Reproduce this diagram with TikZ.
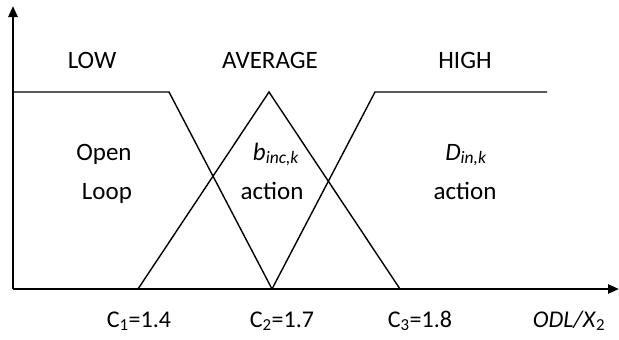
\documentclass[tikz,border=0pt]{standalone}
\usepackage{fontspec}
\setmainfont{Carlito}
\usetikzlibrary{arrows.meta}
\begin{document}
\begin{tikzpicture}[x=1pt,y=-1pt,
  axis/.style={line width=2.6pt,-{Triangle[length=11pt,width=9pt]}},
  mf/.style={line width=1.4pt,line join=miter},
  lbl/.style={font=\fontsize{25}{27}\selectfont,inner sep=0pt,text height=1.3ex,text depth=0pt},
  tick/.style={font=\fontsize{24}{26}\selectfont,inner sep=0pt}]
\useasboundingbox (0,0) rectangle (619,340);
% axes
\coordinate (O) at (13,289);
\coordinate (Ytop) at (13,6);
\coordinate (Xend) at (619,289);
\draw[axis] (O) -- (Ytop);
\draw[axis] (O) -- (Xend);
% membership functions
\coordinate (L0) at (13,92);
\coordinate (L1) at (169,92);
\coordinate (L2) at (272,289);
\coordinate (A0) at (138,289);
\coordinate (A1) at (269,92);
\coordinate (A2) at (400,289);
\coordinate (H1) at (375,92);
\coordinate (H2) at (547,92);
\draw[mf] (L0) -- (L1) -- (L2);
\draw[mf] (A0) -- (A1) -- (A2);
\draw[mf] (L2) -- (H1) -- (H2);
% labels
\node[lbl,anchor=base] (low) at (92,68) {LOW};
\node[lbl,anchor=base] (avg) at (270,68) {AVERAGE};
\node[lbl,anchor=base] (high) at (465,68) {HIGH};
\node[lbl,anchor=base] (open) at (104,160) {Open};
\node[lbl,anchor=base] (loop) at (107,199) {Loop};
\node[lbl,anchor=base] (binc) at (276,160) {\textit{b}\textsubscript{\textit{inc,k}}};
\node[lbl,anchor=base] (act1) at (272,199) {action};
\node[lbl,anchor=base] (din) at (466,160) {\textit{D}\textsubscript{\textit{in,k}}};
\node[lbl,anchor=base] (act2) at (465,199) {action};
\node[tick,anchor=base] (c1) at (139,327) {C\textsubscript{1}=1.4};
\node[tick,anchor=base] (c2) at (282,327) {C\textsubscript{2}=1.7};
\node[tick,anchor=base] (c3) at (420,327) {C\textsubscript{3}=1.8};
\node[tick,anchor=base] (xl) at (569,327) {\textit{ODL/X}\textsubscript{2}};
\end{tikzpicture}
\end{document}
